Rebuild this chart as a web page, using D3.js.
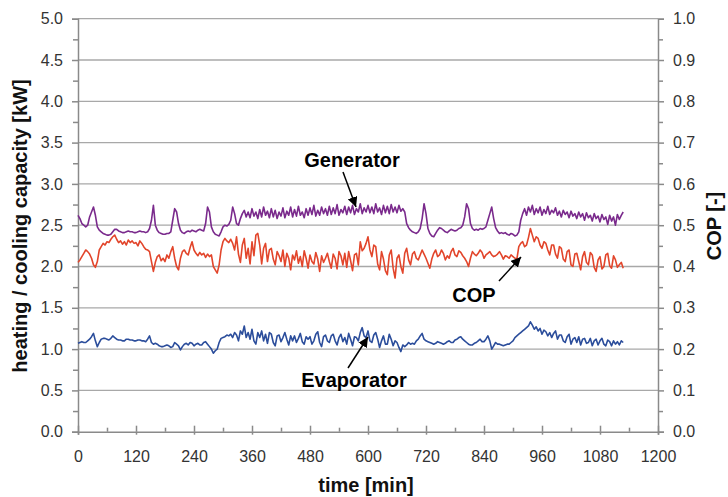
<!DOCTYPE html>
<html>
<head>
<meta charset="utf-8">
<script src="https://cdn.jsdelivr.net/npm/d3@7"></script>
<style>
  body { margin: 0; background: #fff; }
  svg { display: block; font-family: "Liberation Sans", Arial, sans-serif; }
  .axis path, .axis line { stroke: #8a8a8a; stroke-width: 1.5; }
  .axis text { fill: #333; font-size: 16px; }
  .grid line { stroke: #a8a8a8; stroke-width: 1.3; }
  .title { font-weight: bold; font-size: 20px; fill: #111; }
  .note { font-weight: bold; font-size: 20px; fill: #000; }
</style>
</head>
<body>
<svg id="chart" width="728" height="497"></svg>
<script>
// sampling interval of the logged series [min]
const step = 4;

// generator heating capacity [kW]
const generator = [
  2.62, 2.58, 2.52, 2.50, 2.48, 2.50, 2.60, 2.66, 2.72, 2.62,
  2.48, 2.44, 2.42, 2.40, 2.39, 2.38, 2.38, 2.39, 2.42, 2.45,
  2.45, 2.43, 2.42, 2.41, 2.41, 2.42, 2.43, 2.42, 2.42, 2.41,
  2.41, 2.42, 2.43, 2.42, 2.42, 2.41, 2.42, 2.46, 2.56, 2.74,
  2.50, 2.44, 2.41, 2.40, 2.39, 2.39, 2.40, 2.40, 2.42, 2.56,
  2.70, 2.66, 2.52, 2.44, 2.41, 2.40, 2.42, 2.43, 2.42, 2.44,
  2.43, 2.42, 2.44, 2.45, 2.44, 2.43, 2.52, 2.72, 2.66, 2.48,
  2.42, 2.39, 2.38, 2.37, 2.42, 2.48, 2.50, 2.49, 2.51, 2.56,
  2.72, 2.64, 2.52, 2.50, 2.58, 2.64, 2.68, 2.60, 2.66, 2.59,
  2.70, 2.61, 2.66, 2.58, 2.69, 2.60, 2.72, 2.62, 2.67, 2.59,
  2.70, 2.60, 2.68, 2.58, 2.66, 2.61, 2.71, 2.59, 2.67, 2.62,
  2.72, 2.60, 2.69, 2.61, 2.73, 2.62, 2.66, 2.59, 2.70, 2.62,
  2.71, 2.63, 2.74, 2.61, 2.68, 2.62, 2.72, 2.64, 2.70, 2.62,
  2.73, 2.63, 2.71, 2.64, 2.75, 2.62, 2.69, 2.65, 2.73, 2.63,
  2.72, 2.65, 2.74, 2.63, 2.70, 2.66, 2.76, 2.64, 2.71, 2.66,
  2.74, 2.65, 2.72, 2.64, 2.76, 2.66, 2.71, 2.63, 2.74, 2.65,
  2.73, 2.64, 2.75, 2.66, 2.72, 2.65, 2.74, 2.67, 2.70, 2.66,
  2.52, 2.47, 2.44, 2.42, 2.41, 2.40, 2.42, 2.46, 2.58, 2.76,
  2.64, 2.46, 2.40, 2.37, 2.36, 2.40, 2.44, 2.47, 2.46, 2.44,
  2.42, 2.41, 2.43, 2.45, 2.44, 2.43, 2.44, 2.46, 2.47, 2.50,
  2.60, 2.76, 2.70, 2.52, 2.46, 2.44, 2.45, 2.44, 2.46, 2.45,
  2.46, 2.48, 2.56, 2.64, 2.72, 2.58, 2.47, 2.43, 2.40, 2.41,
  2.40, 2.41, 2.39, 2.38, 2.40, 2.39, 2.37, 2.38, 2.42, 2.56,
  2.64, 2.70, 2.62, 2.72, 2.66, 2.74, 2.63, 2.70, 2.65, 2.72,
  2.62, 2.69, 2.64, 2.73, 2.63, 2.68, 2.65, 2.71, 2.62, 2.67,
  2.60, 2.68, 2.63, 2.66, 2.59, 2.67, 2.61, 2.64, 2.58, 2.66,
  2.60, 2.64, 2.56, 2.65, 2.59, 2.62, 2.55, 2.64, 2.58, 2.61,
  2.54, 2.63, 2.57, 2.60, 2.51, 2.62, 2.55, 2.60, 2.50, 2.63,
  2.57, 2.62, 2.66
];

// coefficient of performance [-] (right axis)
const cop = [
  .410, .416, .424, .432, .440, .436, .430, .420, .404, .398,
  .412, .440, .448, .456, .452, .460, .458, .466, .472, .476,
  .466, .458, .462, .454, .460, .452, .464, .458, .462, .456,
  .458, .450, .462, .456, .448, .442, .440, .436, .412, .388,
  .410, .424, .428, .414, .420, .412, .428, .420, .436, .448,
  .420, .400, .392, .420, .436, .440, .432, .428, .446, .460,
  .440, .432, .426, .434, .428, .432, .422, .430, .424, .428,
  .400, .392, .384, .404, .440, .460, .468, .462, .458, .466,
  .456, .440, .472, .430, .410, .452, .468, .420, .444, .406,
  .460, .426, .476, .480, .452, .406, .444, .456, .412, .440,
  .444, .418, .404, .436, .426, .412, .440, .400, .432, .420,
  .392, .428, .416, .438, .408, .424, .400, .438, .420, .396,
  .428, .412, .406, .434, .418, .388, .426, .410, .420, .432,
  .412, .396, .430, .420, .394, .436, .426, .404, .432, .398,
  .436, .414, .390, .428, .432, .404, .460, .438, .444, .456,
  .472, .440, .424, .452, .448, .406, .392, .436, .418, .390,
  .380, .428, .440, .396, .372, .420, .428, .400, .384, .432,
  .444, .416, .404, .430, .436, .420, .416, .428, .440, .430,
  .420, .408, .396, .418, .432, .440, .424, .428, .440, .432,
  .416, .426, .420, .436, .444, .428, .424, .438, .434, .426,
  .420, .412, .400, .420, .436, .430, .426, .432, .440, .434,
  .420, .428, .432, .436, .428, .424, .426, .430, .436, .428,
  .418, .426, .424, .420, .428, .424, .420, .418, .448, .456,
  .460, .448, .452, .470, .492, .476, .460, .472, .468, .452,
  .444, .460, .456, .440, .428, .452, .452, .430, .420, .448,
  .444, .418, .412, .436, .440, .404, .400, .430, .432, .412,
  .392, .424, .436, .410, .404, .434, .428, .398, .388, .416,
  .424, .394, .400, .428, .432, .402, .396, .426, .416, .398,
  .404, .410, .396
];

// evaporator cooling capacity [kW]
const evaporator = [
  1.07, 1.08, 1.09, 1.08, 1.08, 1.10, 1.12, 1.15, 1.19, 1.10,
  1.03, 1.08, 1.12, 1.13, 1.13, 1.12, 1.11, 1.13, 1.16, 1.14,
  1.12, 1.11, 1.11, 1.10, 1.10, 1.12, 1.12, 1.11, 1.11, 1.10,
  1.10, 1.11, 1.11, 1.10, 1.10, 1.09, 1.12, 1.16, 1.08, 1.06,
  1.07, 1.06, 1.04, 1.03, 1.03, 1.04, 1.05, 1.04, 1.02, 1.03,
  1.08, 1.06, 1.04, 0.99, 1.03, 1.06, 1.07, 1.05, 1.08, 1.07,
  1.04, 1.06, 1.07, 1.05, 1.05, 1.08, 1.09, 1.06, 1.03, 1.00,
  0.95, 0.98, 1.00, 1.08, 1.13, 1.14, 1.15, 1.17, 1.16, 1.18,
  1.14, 1.20, 1.17, 1.10, 1.22, 1.18, 1.28, 1.14, 1.20, 1.12,
  1.24, 1.10, 1.06, 1.20, 1.14, 1.22, 1.10, 1.18, 1.07, 1.20,
  1.18, 1.08, 1.04, 1.16, 1.17, 1.09, 1.14, 1.20, 1.12, 1.05,
  1.16, 1.10, 1.16, 1.08, 1.13, 1.19, 1.09, 1.06, 1.15, 1.12,
  1.15, 1.06, 1.10, 1.18, 1.21, 1.08, 1.03, 1.15, 1.17, 1.10,
  1.08, 1.16, 1.18, 1.10, 1.05, 1.14, 1.18, 1.09, 1.14, 1.06,
  1.19, 1.12, 1.04, 1.15, 1.14, 1.10, 1.20, 1.26, 1.16, 1.14,
  1.22, 1.10, 1.08, 1.17, 1.20, 1.12, 1.02, 1.10, 1.16, 1.06,
  1.06, 1.18, 1.12, 1.04, 1.10, 1.08, 1.02, 0.97, 1.05, 1.03,
  1.05, 1.08, 1.06, 1.07, 1.06, 1.10, 1.12, 1.16, 1.19, 1.12,
  1.10, 1.09, 1.08, 1.07, 1.06, 1.07, 1.09, 1.08, 1.07, 1.06,
  1.07, 1.09, 1.10, 1.08, 1.08, 1.11, 1.12, 1.14, 1.15, 1.12,
  1.10, 1.08, 1.06, 1.05, 1.05, 1.07, 1.08, 1.10, 1.12, 1.09,
  1.09, 1.12, 1.16, 1.10, 1.00, 1.04, 1.08, 1.06, 1.06, 1.05,
  1.04, 1.05, 1.06, 1.06, 1.08, 1.10, 1.14, 1.16, 1.18, 1.20,
  1.22, 1.24, 1.26, 1.28, 1.33, 1.29, 1.24, 1.27, 1.22, 1.25,
  1.18, 1.23, 1.21, 1.16, 1.20, 1.14, 1.19, 1.22, 1.12, 1.17,
  1.17, 1.10, 1.08, 1.15, 1.18, 1.06, 1.12, 1.14, 1.08, 1.15,
  1.05, 1.12, 1.13, 1.07, 1.08, 1.13, 1.04, 1.10, 1.12, 1.05,
  1.10, 1.13, 1.06, 1.04, 1.11, 1.09, 1.04, 1.10, 1.06, 1.09,
  1.05, 1.10, 1.08
];

const xTicks = [0, 120, 240, 360, 480, 600, 720, 840, 960, 1080, 1200];
const kwTicks = [0, 0.5, 1, 1.5, 2, 2.5, 3, 3.5, 4, 4.5, 5];
const copTicks = [0, 0.1, 0.2, 0.3, 0.4, 0.5, 0.6, 0.7, 0.8, 0.9, 1];

const plotLeft = 78, plotRight = 658, plotTop = 18.7, plotBottom = 431.7;

const svg = d3.select('#chart');

const x = d3.scaleLinear().domain([0, 1200]).range([plotLeft, plotRight]);
const yL = d3.scaleLinear().domain([0, 5]).range([plotBottom, plotTop]);
const yR = d3.scaleLinear().domain([0, 1]).range([plotBottom, plotTop]);

// gridlines
svg.append('g').attr('class', 'grid')
  .selectAll('line')
  .data(kwTicks.slice(1))
  .join('line')
    .attr('x1', plotLeft).attr('x2', plotRight)
    .attr('y1', d => yL(d)).attr('y2', d => yL(d));

// minor ticks
const halfway = arr => arr.slice(1).map((d, i) => (d + arr[i]) / 2);

svg.append('g').attr('class', 'axis')
  .attr('transform', `translate(${plotLeft},0)`)
  .call(d3.axisLeft(yL).tickValues(halfway(kwTicks)).tickSize(5).tickFormat(''))
  .call(g => g.select('.domain').remove());

svg.append('g').attr('class', 'axis')
  .attr('transform', `translate(${plotRight},0)`)
  .call(d3.axisRight(yR).tickValues(halfway(copTicks)).tickSize(5).tickFormat(''))
  .call(g => g.select('.domain').remove());

svg.append('g').attr('class', 'axis')
  .attr('transform', `translate(0,${plotBottom})`)
  .call(d3.axisBottom(x).tickValues(halfway(xTicks)).tickSize(-4).tickFormat(''))
  .call(g => g.select('.domain').remove());

// main axes
svg.append('g').attr('class', 'axis')
  .attr('transform', `translate(${plotLeft},0)`)
  .call(d3.axisLeft(yL).tickValues(kwTicks).tickSize(6).tickPadding(9).tickFormat(d3.format('.1f')));

svg.append('g').attr('class', 'axis')
  .attr('transform', `translate(${plotRight},0)`)
  .call(d3.axisRight(yR).tickValues(copTicks).tickSize(6).tickPadding(9).tickFormat(d3.format('.1f')));

svg.append('g').attr('class', 'axis')
  .attr('transform', `translate(0,${plotBottom})`)
  .call(d3.axisBottom(x).tickValues(xTicks).tickSize(3).tickPadding(16).tickFormat(d3.format('d')))
  .call(g => g.selectAll('.tick').append('line').attr('y2', -6));

// series
const lineL = d3.line().x((d, i) => x(i * step)).y(d => yL(d));
const lineR = d3.line().x((d, i) => x(i * step)).y(d => yR(d));

svg.append('path').datum(generator)
  .attr('fill', 'none').attr('stroke', '#7a2a8c').attr('stroke-width', 1.6)
  .attr('stroke-linejoin', 'round').attr('d', lineL);

svg.append('path').datum(cop)
  .attr('fill', 'none').attr('stroke', '#e2452b').attr('stroke-width', 1.6)
  .attr('stroke-linejoin', 'round').attr('d', lineR);

svg.append('path').datum(evaporator)
  .attr('fill', 'none').attr('stroke', '#2b4d9b').attr('stroke-width', 1.6)
  .attr('stroke-linejoin', 'round').attr('d', lineL);

// axis titles
svg.append('text').attr('class', 'title')
  .attr('transform', 'translate(27,226) rotate(-90)')
  .attr('text-anchor', 'middle')
  .text('heating / cooling capacity [kW]');

svg.append('text').attr('class', 'title')
  .attr('transform', 'translate(721,226) rotate(-90)')
  .attr('text-anchor', 'middle')
  .text('COP [-]');

svg.append('text').attr('class', 'title')
  .attr('x', 366).attr('y', 492)
  .attr('text-anchor', 'middle')
  .text('time [min]');

// annotations
svg.append('defs').append('marker')
  .attr('id', 'arrow')
  .attr('viewBox', '0 0 10 10')
  .attr('refX', 10).attr('refY', 5)
  .attr('markerWidth', 10).attr('markerHeight', 10)
  .attr('markerUnits', 'userSpaceOnUse')
  .attr('orient', 'auto')
  .append('path').attr('d', 'M0,0L10,5L0,10z').attr('fill', '#000');

const notes = [
  { label: 'Generator', tx: 352, ty: 167, x1: 343, y1: 172, x2: 356, y2: 207 },
  { label: 'COP', tx: 474, ty: 302, x1: 499, y1: 281, x2: 521, y2: 257 },
  { label: 'Evaporator', tx: 354, ty: 387, x1: 348, y1: 368, x2: 368, y2: 337 }
];

svg.append('g').selectAll('line')
  .data(notes)
  .join('line')
    .attr('x1', d => d.x1).attr('y1', d => d.y1)
    .attr('x2', d => d.x2).attr('y2', d => d.y2)
    .attr('stroke', '#000').attr('stroke-width', 1.5)
    .attr('marker-end', 'url(#arrow)');

svg.append('g').selectAll('text')
  .data(notes)
  .join('text')
    .attr('class', 'note')
    .attr('x', d => d.tx).attr('y', d => d.ty)
    .attr('text-anchor', 'middle')
    .text(d => d.label);
</script>
</body>
</html>
